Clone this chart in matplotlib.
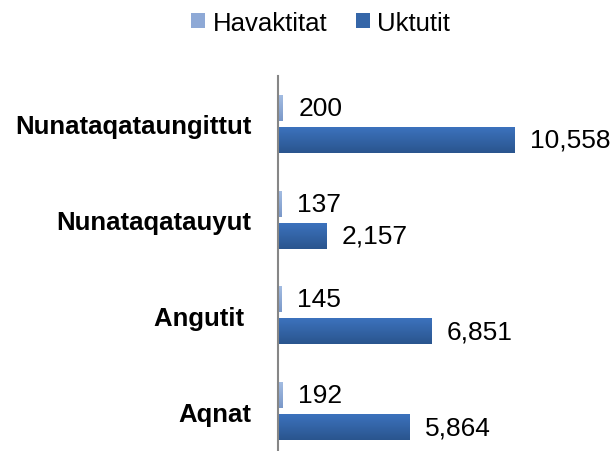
import numpy as np
import matplotlib.pyplot as plt
from matplotlib.colors import LinearSegmentedColormap

plt.rcParams['font.family'] = ['Liberation Sans', 'DejaVu Sans']

categories = ['Nunataqataungittut', 'Nunataqatauyut', 'Angutit ', 'Aqnat']
havaktitat = [200, 137, 145, 192]
uktutit = [10558, 2157, 6851, 5864]

fig = plt.figure(figsize=(6.13, 4.52), dpi=100)
ax = fig.add_axes([278 / 613, 1 - 460 / 452, 246 / 613, 383 / 452])

y = np.arange(len(categories))
h = 0.27
off = 0.167
b1 = ax.barh(y - off, havaktitat, height=h, color='#8EA9D6', label='Havaktitat')
b2 = ax.barh(y + off, uktutit, height=h, color='#3566A8', label='Uktutit')

# Excel-like vertical gradient on each bar
grad = np.linspace(0, 1, 64).reshape(-1, 1)
for bars, c_top, c_bot in [(b1, '#A3BCE2', '#7A98C8'), (b2, '#3C72BD', '#2A558E')]:
    cmap = LinearSegmentedColormap.from_list('g', [c_top, c_bot])
    for p in bars:
        x0, y0 = p.get_x(), p.get_y()
        w, hh = p.get_width(), p.get_height()
        im = ax.imshow(grad, cmap=cmap, aspect='auto',
                       extent=(x0, x0 + w, y0 + hh, y0), zorder=2)
        im.set_clip_path(p)

for yi, v in zip(y, havaktitat):
    ax.text(v + 720, yi - off, f'{v:,}', va='center', ha='left', fontsize=19, clip_on=False)
for yi, v in zip(y, uktutit):
    ax.text(v + 700, yi + off, f'{v:,}', va='center', ha='left', fontsize=19, clip_on=False)

ax.set_xlim(0, 11000)
ax.set_ylim(3.5, -0.5)
ax.set_yticks(y)
ax.set_yticklabels(categories, fontsize=18.5, fontweight='bold')
ax.tick_params(axis='y', length=0, pad=19)
ax.set_xticks([])
for s in ['top', 'right', 'bottom']:
    ax.spines[s].set_visible(False)
ax.spines['left'].set_color('#868686')
ax.spines['left'].set_linewidth(1.5)
ax.spines['left'].set_zorder(3)

fig.legend(loc='upper center', bbox_to_anchor=(0.523, 1.025), ncol=2, frameon=False,
           fontsize=18.5, handlelength=0.55, handleheight=0.55, handletextpad=0.3,
           columnspacing=1.1)

fig.savefig('out.png', dpi=100)
